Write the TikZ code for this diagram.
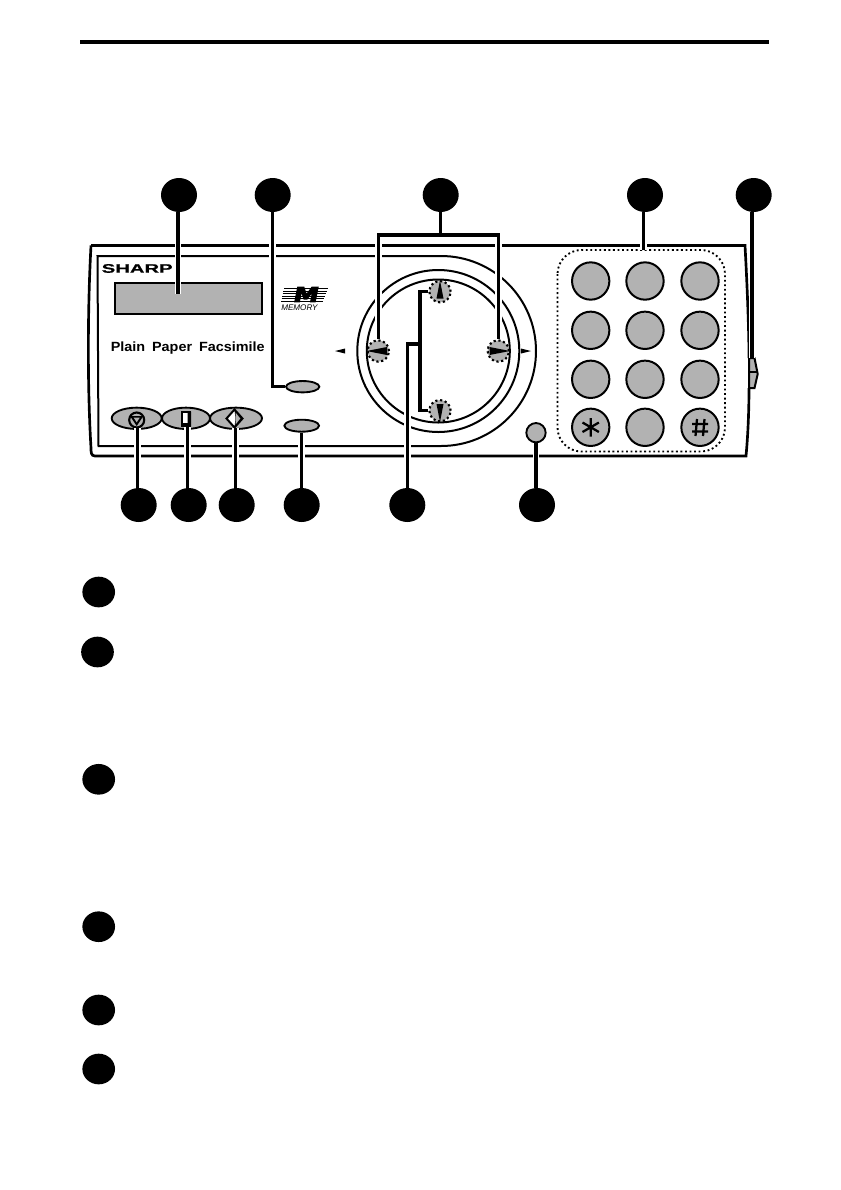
\documentclass[tikz,border=0pt]{standalone}
\usepackage{fontspec}
\usetikzlibrary{shapes.geometric}
\setmainfont{Liberation Sans}
\newfontfamily\logofont[FakeStretch=1.65,FakeBold=0.6]{Liberation Sans}
\newfontfamily\plainfont[FakeStretch=1.08]{Liberation Sans}
\newfontfamily\heavyfont[UprightFont=* Bold,FakeStretch=1.25,FakeBold=6,FakeSlant=0.2]{DejaVu Sans}
\definecolor{panelgray}{gray}{0.70}
\tikzset{
  callout/.style={ellipse,fill=black,inner sep=0pt,minimum width=27pt,minimum height=25.5pt},
  legendmark/.style={ellipse,fill=black,inner sep=0pt,minimum width=24.5pt,minimum height=23pt},
  key/.style={circle,draw,fill=panelgray,line width=1.5pt,inner sep=0pt,minimum size=28pt},
  dialbtn/.style={circle,draw,dotted,fill=panelgray,line width=1.6pt,inner sep=0pt,minimum size=16pt},
  oval/.style={ellipse,draw,fill=panelgray,line width=1.4pt,inner sep=0pt},
  leader/.style={line width=2.4pt,preaction={draw=white,line width=5pt}},
  ring/.style={line width=1.5pt},
}
\begin{document}
\begin{tikzpicture}[x=0.75pt,y=-0.75pt]
        \useasboundingbox[fill=white] (0,0) rectangle (840,1190);

        % head rule
        \draw[line width=2.3pt] (80,42) -- (769,42);

        % panel
        \draw[line width=2pt] (91,245.5) -- (745,245.5) .. controls (748,300) and (749,340) .. (749,358)
          (749,388) .. controls (749,410) and (748,435) .. (746,456) -- (95,456)
          .. controls (91,456) and (91,452) .. (91,448) .. controls (87,380) and (88,300) .. (91,245.5);
        \draw[ring] (441,256) -- (97.5,256) -- (98.5,446) -- (441,446) arc[start angle=90,end angle=-90,radius=95];

        % dial
        \draw[ring] (438.3,351) circle[radius=81];
        \draw[ring] (438.3,351) circle[radius=71.5];
        \node[dialbtn] (dialup) at (440,291.7) {};
        \node[dialbtn] (dialdown) at (440,410.7) {};
        \node[dialbtn] (dialleft) at (378.3,351) {};
        \node[dialbtn] (dialright) at (498.3,351) {};
        \fill (440,280.5) -- (443.5,298.5) -- (436.5,298.5) -- cycle;
        \fill (440,422) -- (443.5,404) -- (436.5,404) -- cycle;
        \fill (366.5,351) -- (387,347) -- (387,355) -- cycle;
        \fill (510,351) -- (489.5,347) -- (489.5,355) -- cycle;
        \fill (335,351) -- (345,348.5) -- (345,353.5) -- cycle;
        \fill (531,351) -- (521,348.5) -- (521,353.5) -- cycle;

        % keypad
        \draw[line width=1.4pt,dotted,rounded corners=18] (557.5,250) rectangle (725,451.5);
        \node[key] (key1) at (590.7,281) {};
        \node[key] (key2) at (645,281) {};
        \node[key] (key3) at (700,281) {};
        \node[key] (key4) at (590.7,330.3) {};
        \node[key] (key5) at (645,330.3) {};
        \node[key] (key6) at (700,330.3) {};
        \node[key] (key7) at (590.7,379.3) {};
        \node[key] (key8) at (645,379.3) {};
        \node[key] (key9) at (700,379.3) {};
        \node[key] (keystar) at (590.7,427.3) {};
        \node[key] (key0) at (645,427.3) {};
        \node[key] (keyhash) at (700,427.3) {};
        \draw[line width=1.7pt] (590.7,418) -- (590.7,436.5) (582.5,422.5) -- (598.9,432) (582.5,432) -- (598.9,422.5);
        \draw[line width=1.7pt] (697,419) -- (695.5,436) (704.5,419) -- (703,436) (692,424) -- (708,424) (692,431.5) -- (708,431.5);

        % side switch
        \draw[line width=1.5pt,fill=panelgray] (749,358) -- (754.5,358) -- (757.7,374) -- (754.5,388) -- (749,388) -- cycle;
        \draw[line width=1.1pt] (749,372) -- (757,372);

        % display and logos
        \node[draw,fill=panelgray,line width=1.5pt,inner sep=0pt,minimum width=110.5pt,minimum height=23pt] (display) at (188.2,298.3) {};
        \node[anchor=base west,inner sep=0pt,font=\logofont\bfseries\fontsize{9.2}{9.2}\selectfont] (sharp) at (101.5,272.7) {SHARP};
        \node[anchor=base west,inner sep=0pt,font=\plainfont\bfseries\fontsize{10}{10}\selectfont] (plain) at (110.5,351) {Plain\hspace{2.2pt} Paper\hspace{2.2pt} Facsimile};
        \draw[line width=0.7pt] (284,288.5) -- (328,288.5);
        \draw[line width=0.7pt] (283,291) -- (327,291);
        \draw[line width=0.7pt] (282.5,293.5) -- (326,293.5);
        \draw[line width=0.7pt] (282,296) -- (325,296);
        \draw[line width=0.7pt] (281.5,298.5) -- (324,298.5);
        \draw[line width=0.7pt] (281,301) -- (323,301);
        \node[anchor=base,inner sep=0pt,font=\heavyfont\fontsize{15}{15}\selectfont] (bigm) at (305,301.7) {M};
        \node[anchor=base west,inner sep=0pt,font=\itshape\fontsize{6.1}{6.1}\selectfont] (memtext) at (281,310.7) {MEMORY};

        % buttons
        \node[oval,minimum width=25pt,minimum height=8.5pt] (btnupper) at (302.7,386.7) {};
        \node[oval,minimum width=26pt,minimum height=9pt] (btnlower) at (301.7,425.7) {};
        \node[oval,minimum width=36pt,minimum height=16pt] (btncopy) at (186,418.3) {};
        \node[oval,minimum width=37.5pt,minimum height=16pt] (btnstop) at (136.7,418.3) {};
        \node[oval,minimum width=39pt,minimum height=16pt] (btnstart) at (236,418.3) {};
        \node[circle,draw,fill=panelgray,line width=1.4pt,inner sep=0pt,minimum size=14.5pt] (btnround) at (536,432.7) {};

        % button icons
        \draw[line width=1.6pt] (136.7,420) circle[radius=7.5];
        \fill (130,416) -- (143.4,416) -- (136.7,426) -- cycle;
        \fill[panelgray] (133.7,417.7) -- (139.7,417.7) -- (136.7,422.3) -- cycle;
        \draw[line width=1.1pt,fill=white] (182,412) -- (190.5,412) -- (190.5,426) -- (182,426) -- cycle;
        \fill (181.5,423) -- (181.5,426.5) -- (191,426.5) -- (191,411.5) -- (187.5,411.5) -- (187.5,423) -- cycle;
        \draw[line width=1.5pt,fill=white] (234.5,409.5) -- (242.5,418.5) -- (234.5,427.5) -- (226.5,418.5) -- cycle;
        \fill (234.5,409.5) -- (242.5,418.5) -- (234.5,427.5) -- (235.5,418.5) -- cycle;
        \fill[panelgray] (235.5,412.5) -- (240.3,418.5) -- (235.5,424.5) -- cycle;

        % callouts
        \node[callout] (topa) at (179,195) {};
        \node[callout] (topb) at (272.7,195) {};
        \node[callout] (topc) at (440.7,195) {};
        \node[callout] (topd) at (645,195) {};
        \node[callout] (tope) at (753.7,195) {};
        \node[callout] (botstop) at (138.7,505) {};
        \node[callout] (botcopy) at (188.7,505) {};
        \node[callout] (botstart) at (236.7,505) {};
        \node[callout] (botlower) at (301.7,505) {};
        \node[callout] (botdial) at (407.3,505) {};
        \node[callout] (botround) at (537,505) {};

        % named ends
        \coordinate (disend) at (178,293.5);
        \coordinate (padtop) at (643.3,250);
        \coordinate (swtop) at (752,358);
        \coordinate (forkc) at (440.2,235);
        \coordinate (forkg) at (420,344);
        \coordinate (stoptop) at (137.3,428);
        \coordinate (copytop) at (187.3,427);
        \coordinate (starttop) at (235.3,428);

        % leaders
        \draw[leader] (topa.south -| disend) -- (disend);
        \draw[leader] (topb.south) |- (btnupper.west);
        \draw[leader] (dialleft.north) |- (forkc) -| (dialright.north);
        \draw[line width=2.4pt] (topc.south -| forkc) -- (forkc);
        \draw[leader] (topd.south -| padtop) -- (padtop);
        \draw[leader] (tope.south -| swtop) -- (swtop);
        \draw[leader] (botstop.north -| stoptop) -- (stoptop);
        \draw[leader] (botcopy.north -| copytop) -- (copytop);
        \draw[leader] (botstart.north -| starttop) -- (starttop);
        \draw[leader] (botlower.north -| btnlower.south) -- (btnlower.south);
        \draw[leader] (botround.north -| btnround.south) -- (btnround.south);
        \draw[leader] (botdial.north) |- (forkg);
        \draw[line width=2.4pt] (dialup.west) -| (forkg) |- (dialdown.west);

        % legend marks
        \node[legendmark] (marka) at (98.7,592) {};
        \node[legendmark] (markb) at (97.5,652) {};
        \node[legendmark] (markc) at (98.7,779.3) {};
        \node[legendmark] (markd) at (98.7,926.7) {};
        \node[legendmark] (marke) at (98.7,1010) {};
        \node[legendmark] (markf) at (98.7,1069) {};
      \end{tikzpicture}
\end{document}
